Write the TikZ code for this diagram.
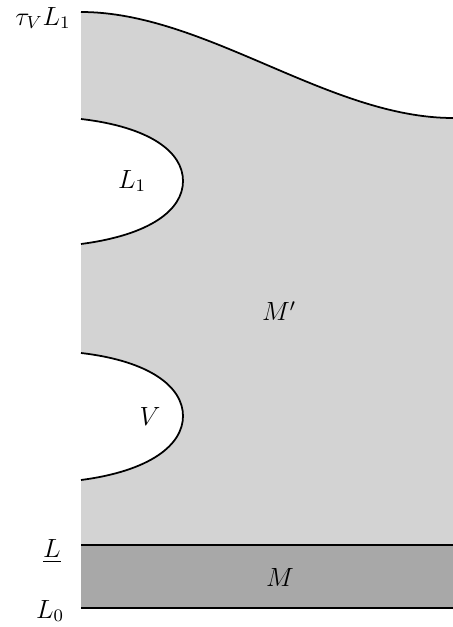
\documentclass[tikz,border=0pt]{standalone}
\usepackage{amsmath,amssymb}
\usepackage{xcolor}
\usepackage{tikz}
\definecolor{regioncol}{RGB}{211,211,211}
\definecolor{collarcol}{RGB}{168,168,168}
\tikzset{
  bdry/.style={line width=0.8pt},
  hole/.style={line width=0.8pt,fill=white},
  lbl/.style={inner sep=1pt,font=\fontsize{11.5}{14}\selectfont}
}

\begin{document}
\begin{tikzpicture}[x=0.016cm,y=0.016cm]
  \useasboundingbox (0,0) rectangle (453,627);
  % corners of the strip and the top boundary
  \coordinate (l0a) at (81,19);
  \coordinate (l0b) at (453,19);
  \coordinate (la) at (81,82);
  \coordinate (lb) at (453,82);
  \coordinate (ta) at (81,615);
  \coordinate (tb) at (453,509);
  \fill[regioncol] (la) -- (ta) .. controls (205,615) and (329,509) .. (tb) -- (lb) -- cycle;
  \fill[collarcol] (l0a) rectangle (lb);
  \draw[bdry] (ta) .. controls (205,615) and (329,509) .. (tb);
  \draw[bdry] (la) -- (lb);
  \draw[bdry] (l0a) -- (l0b);
  % the two removed pieces
  \draw[hole] (81,508) .. controls (150,500) and (183,475) .. (183,446)
    .. controls (183,417) and (150,392) .. (81,383);
  \draw[hole] (81,274) .. controls (150,266) and (183,240) .. (183,211)
    .. controls (183,182) and (150,156) .. (81,147);
  \node[lbl] (tl) at (43,609) {$\tau_V L_1$};
  \node[lbl] (lu) at (52,76) {$\underline{L}$};
  \node[lbl] (lz) at (50,16) {$L_0$};
  \node[lbl] (mp) at (279,316) {$M'$};
  \node[lbl] (m) at (280,50) {$M$};
  \node[lbl] (li) at (132,446) {$L_1$};
  \node[lbl] (v) at (150,211) {$V$};
\end{tikzpicture}
\end{document}
